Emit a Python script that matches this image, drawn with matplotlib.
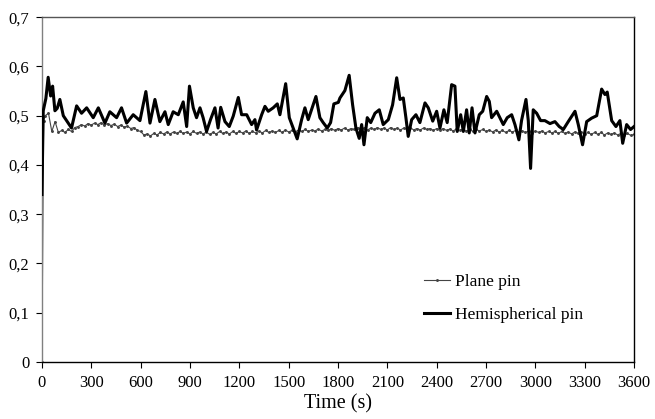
import matplotlib
matplotlib.use("Agg")
import matplotlib.pyplot as plt

plt.rcParams['font.family'] = ['Liberation Serif', 'DejaVu Serif']

# Hemispherical pin (thick black)
hemi_t = [0, 8, 24, 38, 53, 65, 79, 93, 109, 130, 150, 180, 211, 241, 272, 312, 343, 383,
          413, 454, 484, 515, 555, 596, 632, 657, 687, 717, 748, 768, 798, 829, 859, 880,
          897, 920, 940, 961, 980, 1001, 1025, 1052, 1071, 1087, 1113, 1139, 1163, 1194,
          1214, 1245, 1275, 1295, 1305, 1336, 1356, 1376, 1406, 1431, 1447, 1482, 1504,
          1532, 1552, 1579, 1599, 1619, 1666, 1690, 1710, 1735, 1755, 1775, 1802, 1812,
          1842, 1868, 1889, 1909, 1929, 1944, 1958, 1978, 1999, 2025, 2051, 2075, 2106,
          2132, 2157, 2177, 2197, 2213, 2227, 2248, 2274, 2298, 2329, 2349, 2376, 2400,
          2420, 2444, 2464, 2491, 2511, 2525, 2546, 2562, 2582, 2598, 2615, 2633, 2659,
          2680, 2704, 2720, 2734, 2765, 2805, 2829, 2856, 2876, 2900, 2916, 2943, 2957,
          2971, 2987, 3008, 3032, 3058, 3089, 3119, 3145, 3170, 3200, 3241, 3261, 3287,
          3312, 3342, 3373, 3403, 3423, 3437, 3464, 3490, 3514, 3531, 3555, 3579, 3600]
hemi_v = [0.34, 0.51, 0.535, 0.578, 0.54, 0.56, 0.51, 0.515, 0.533, 0.50, 0.49, 0.475, 0.52,
          0.505, 0.516, 0.496, 0.516, 0.485, 0.508, 0.496, 0.516, 0.485, 0.502, 0.49, 0.549,
          0.485, 0.533, 0.488, 0.508, 0.482, 0.508, 0.502, 0.528, 0.478, 0.56, 0.516, 0.496,
          0.516, 0.496, 0.468, 0.492, 0.516, 0.475, 0.517, 0.488, 0.478, 0.499, 0.537, 0.502,
          0.502, 0.482, 0.492, 0.471, 0.502, 0.519, 0.509, 0.516, 0.524, 0.502, 0.565, 0.496,
          0.471, 0.453, 0.492, 0.516, 0.492, 0.539, 0.496, 0.486, 0.475, 0.486, 0.524, 0.527,
          0.536, 0.551, 0.582, 0.522, 0.475, 0.454, 0.482, 0.441, 0.496, 0.486, 0.505, 0.512,
          0.482, 0.492, 0.522, 0.577, 0.533, 0.536, 0.496, 0.458, 0.492, 0.502, 0.486, 0.526,
          0.516, 0.489, 0.509, 0.475, 0.512, 0.486, 0.563, 0.56, 0.468, 0.502, 0.468, 0.512,
          0.465, 0.516, 0.465, 0.502, 0.509, 0.539, 0.529, 0.496, 0.509, 0.482, 0.496, 0.502,
          0.482, 0.451, 0.49, 0.533, 0.49, 0.393, 0.512, 0.505, 0.49, 0.49, 0.484, 0.488,
          0.478, 0.472, 0.488, 0.509, 0.482, 0.441, 0.488, 0.495, 0.50, 0.554, 0.543, 0.548,
          0.49, 0.478, 0.49, 0.444, 0.482, 0.472, 0.478]

# Plane pin (thin line with dots)
plane_t = [0, 10] + list(range(20, 3601, 20))
plane_v = [0.0, 0.49, 0.50, 0.505, 0.468, 0.488, 0.466, 0.470, 0.466, 0.472,
           0.468, 0.476, 0.478, 0.482, 0.479, 0.484, 0.481, 0.485, 0.482, 0.486,
           0.481, 0.484, 0.480, 0.483, 0.478, 0.481, 0.477, 0.479, 0.474, 0.476,
           0.470, 0.468, 0.461, 0.463, 0.459, 0.464, 0.461, 0.466, 0.463, 0.467,
           0.463, 0.467, 0.464, 0.468, 0.464, 0.467, 0.463, 0.468, 0.464, 0.467,
           0.463, 0.467, 0.462, 0.466, 0.463, 0.468, 0.464, 0.467, 0.463, 0.468,
           0.464, 0.468, 0.465, 0.469, 0.464, 0.468, 0.465, 0.469, 0.465, 0.470,
           0.466, 0.469, 0.466, 0.470, 0.466, 0.471, 0.467, 0.470, 0.467, 0.471,
           0.468, 0.472, 0.468, 0.471, 0.469, 0.473, 0.469, 0.472, 0.470, 0.474,
           0.470, 0.474, 0.471, 0.475, 0.471, 0.474, 0.472, 0.476, 0.472, 0.475,
           0.471, 0.475, 0.472, 0.476, 0.472, 0.475, 0.471, 0.476, 0.472, 0.475,
           0.471, 0.475, 0.472, 0.476, 0.471, 0.474, 0.471, 0.475, 0.472, 0.474,
           0.470, 0.474, 0.471, 0.474, 0.470, 0.473, 0.469, 0.473, 0.470, 0.473,
           0.469, 0.472, 0.468, 0.472, 0.469, 0.472, 0.468, 0.471, 0.467, 0.471,
           0.467, 0.470, 0.466, 0.470, 0.467, 0.470, 0.466, 0.469, 0.466, 0.469,
           0.465, 0.469, 0.466, 0.469, 0.465, 0.468, 0.465, 0.468, 0.464, 0.468,
           0.464, 0.467, 0.463, 0.467, 0.464, 0.467, 0.463, 0.466, 0.462, 0.466,
           0.462, 0.466, 0.461, 0.465, 0.462, 0.465, 0.461, 0.464, 0.460, 0.464,
           0.460, 0.462]

xticks = list(range(0, 3601, 300))
yticks = [0, 0.1, 0.2, 0.3, 0.4, 0.5, 0.6, 0.7]
ytick_labels = ["0", "0,1", "0,2", "0,3", "0,4", "0,5", "0,6", "0,7"]

fig = plt.figure(figsize=(6.55, 4.19), dpi=100)
ax = fig.add_axes([0.064, 0.136, 0.904, 0.823])

ax.plot(plane_t, plane_v, color='#444444', lw=0.8, marker='.', markersize=2.2,
        label='Plane pin', zorder=2)
ax.plot(hemi_t, hemi_v, color='black', lw=2.2, label='Hemispherical pin', zorder=3)

ax.set_xlim(0, 3600)
ax.set_ylim(0, 0.7)
ax.set_xticks(xticks)
ax.set_yticks(yticks)
ax.set_yticklabels(ytick_labels)
ax.tick_params(direction='out', length=4, width=0.8, labelsize=12, pad=5)
ax.set_xlabel('Time (s)', fontsize=14.5, labelpad=3)

ax.spines['left'].set_color('#808080')
ax.spines['top'].set_color('#555555')
for s in ax.spines.values():
    s.set_linewidth(1.0)

ax.legend(loc='upper left', bbox_to_anchor=(0.633, 0.275), frameon=False, fontsize=12.5,
          handlelength=1.5, handletextpad=0.3, labelspacing=0.95, borderaxespad=0)

fig.savefig('out.png', dpi=100, facecolor='white')
